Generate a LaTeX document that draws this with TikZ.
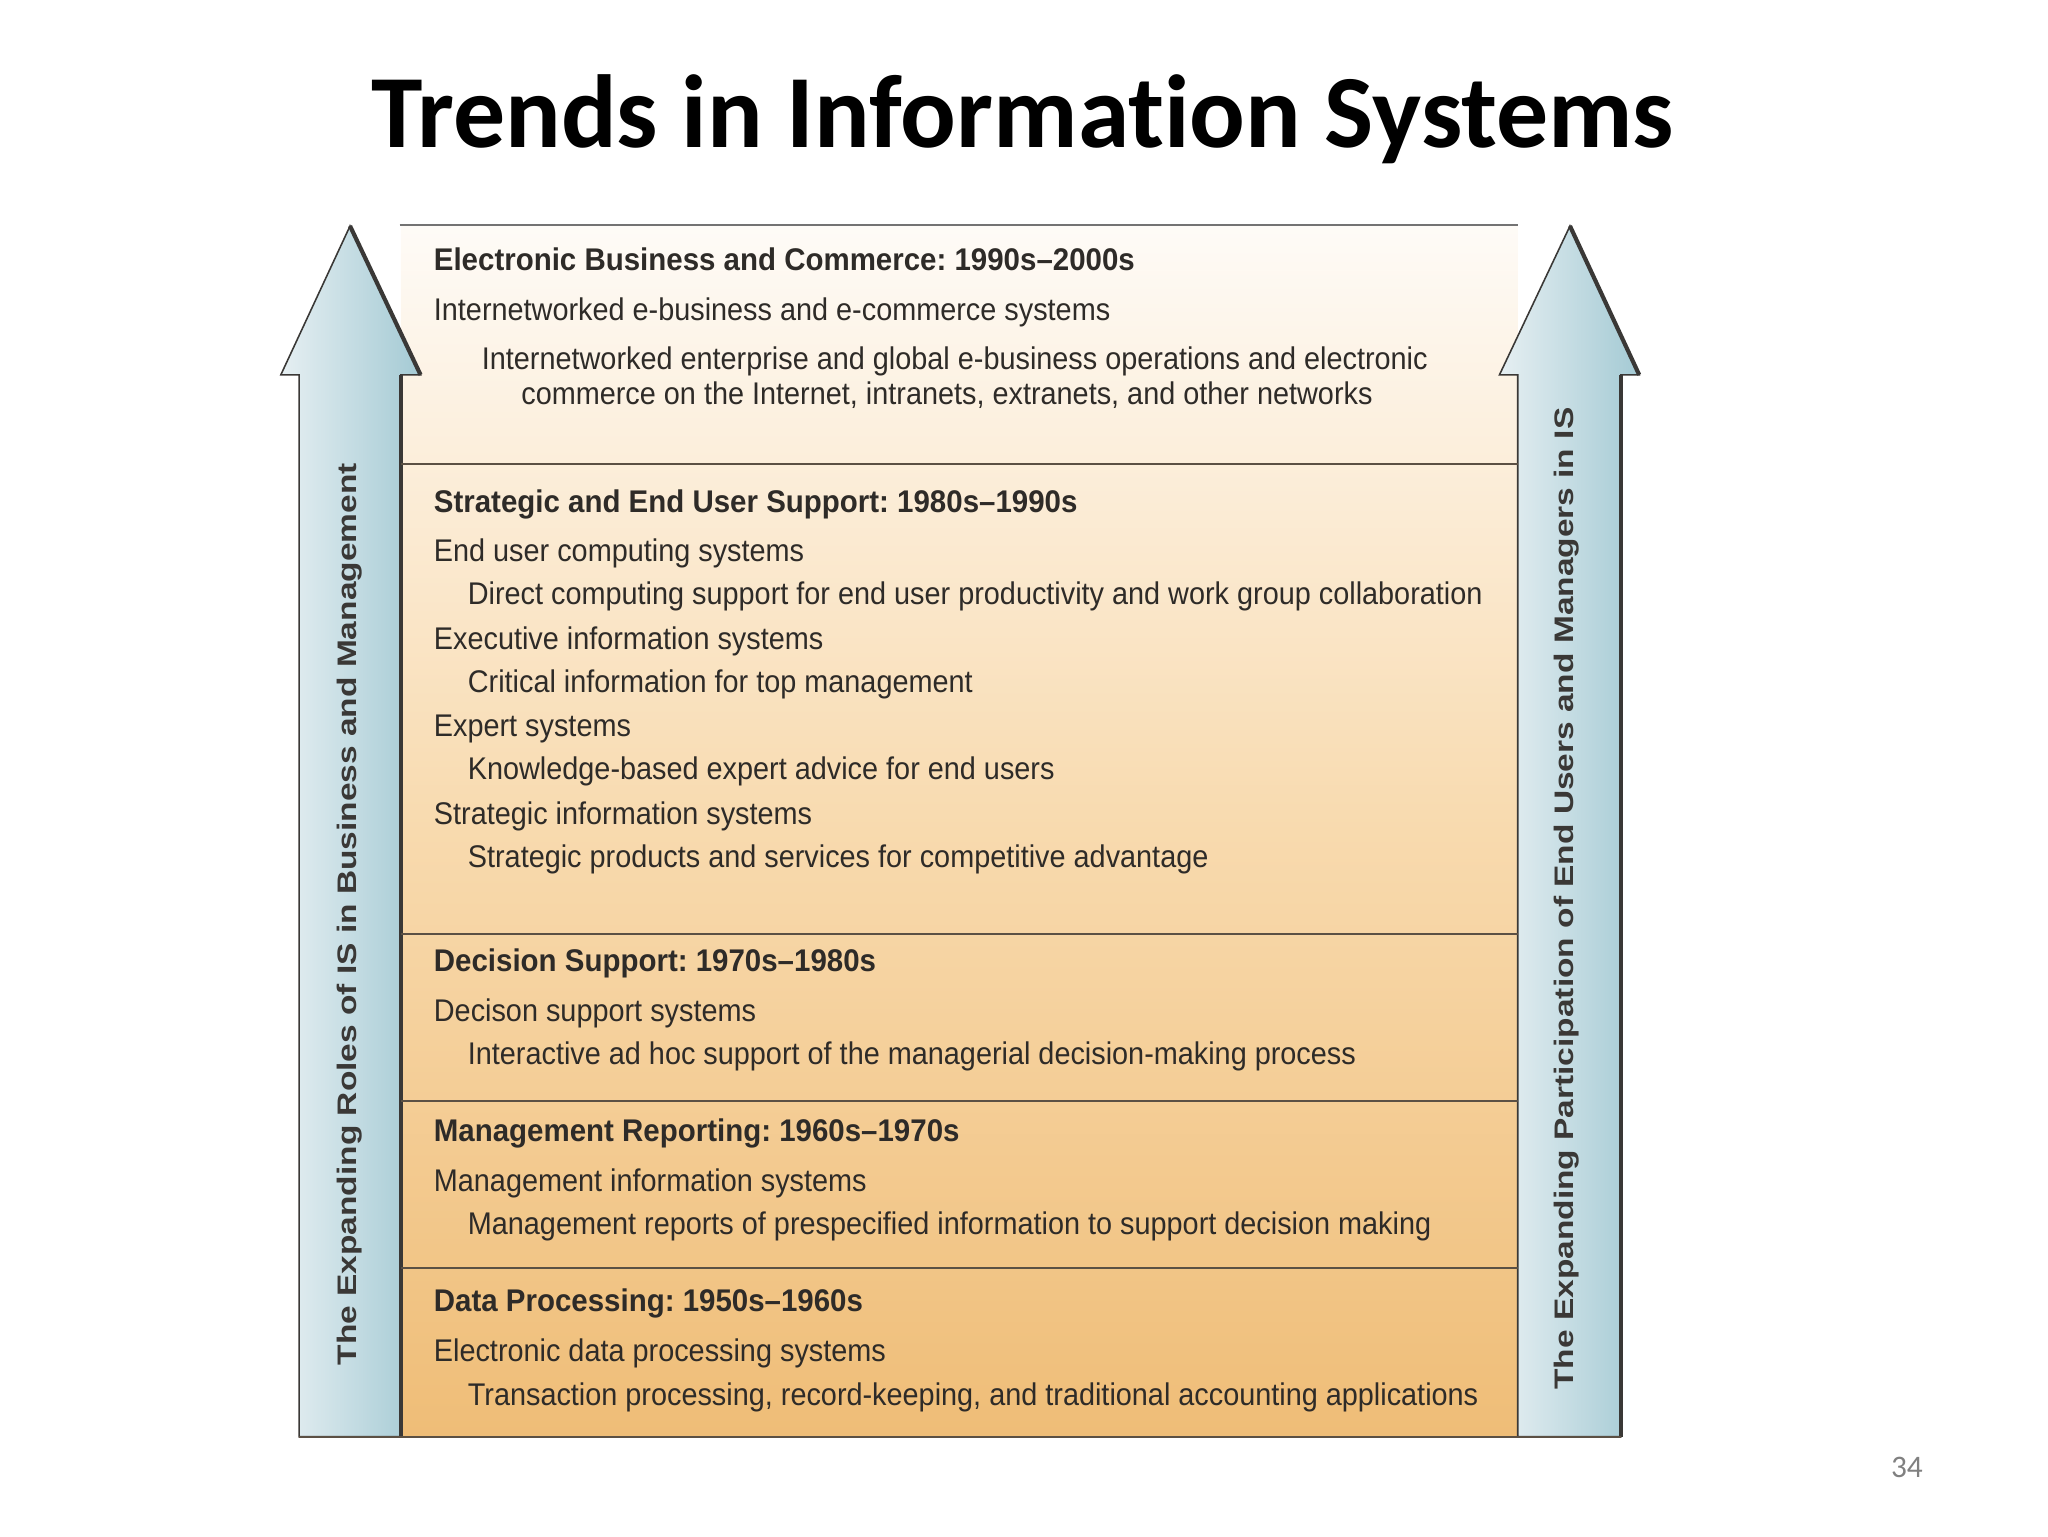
\documentclass[tikz,border=0pt]{standalone}
\usepackage{fontspec}
\setmainfont{Liberation Sans}
\newfontfamily\titlefont{Carlito}[Ligatures=NoCommon]
\newfontfamily\bodyfont{Liberation Sans}[FakeStretch=0.92]
\newfontfamily\headfont{Liberation Sans}[FakeStretch=0.94]
\newfontfamily\arrowfont{Liberation Sans}[FakeStretch=1.25]
\frenchspacing
\definecolor{txt}{HTML}{2E2B28}
\definecolor{boxtop}{HTML}{FEFBF7}
\definecolor{boxmid}{HTML}{F8DAAE}
\definecolor{boxbot}{HTML}{EFBD77}
\definecolor{arrowleft}{HTML}{E6EFF2}
\definecolor{arrowright}{HTML}{A4CAD4}
\definecolor{edge}{HTML}{3A3836}
\definecolor{sep}{HTML}{5B5044}
\tikzset{
  head/.style={anchor=base west, inner sep=0, text=txt,
    font=\headfont\bfseries\fontsize{24}{28}\selectfont},
  item/.style={anchor=base west, inner sep=0, text=txt,
    font=\bodyfont\fontsize{24}{28}\selectfont},
  subitem/.style={item},
  centreitem/.style={item, anchor=base},
  arrowbody/.style={left color=arrowleft, right color=arrowright, draw=edge, line width=1.2pt, line join=miter},
  arrowshadow/.style={draw=edge, line width=3.2pt},
  sepline/.style={draw=sep, line width=1.6pt},
  arrowlabel/.style={anchor=base, inner sep=0, rotate=90, text=edge,
    font=\arrowfont\bfseries\fontsize{20.5}{24}\selectfont}
}
\begin{document}
\begin{tikzpicture}[x=1pt, y=-1pt]
\useasboundingbox (0,0) rectangle (1568,1176);

% title and page number
\node[anchor=base, inner sep=0, font=\titlefont\bfseries\fontsize{79.5}{90}\selectfont] (title) at (783,113) {Trends in Information Systems};
\node[anchor=base, inner sep=0, text=black!50, font=\titlefont\fontsize{24}{28}\selectfont] (page) at (1460,1131) {34};

% the shaded box
\fill[top color=boxtop, bottom color=boxbot, middle color=boxmid] (307,172) rectangle (1162,1100);
\draw[draw=black!55, line width=1.6pt] (306,172) -- (1162,172);

% left arrow
\draw[arrowbody] (229,1100) -- (229,287) -- (215,287) -- (268,173) -- (322,287) -- (307,287) -- (307,1100) -- cycle;
\draw[arrowshadow] (268,173) -- (322,287);
\draw[arrowshadow] (307,287) -- (307,1100);

% right arrow
\draw[arrowbody] (1162,1100) -- (1162,287) -- (1148,287) -- (1202,173) -- (1255,287) -- (1241,287) -- (1241,1100) -- cycle;
\draw[arrowshadow] (1202,173) -- (1255,287);
\draw[arrowshadow] (1241,287) -- (1241,1100);

% separators
\draw[sepline] (307,355) -- (1162,355);
\draw[sepline] (307,715) -- (1162,715);
\draw[sepline] (307,843) -- (1162,843);
\draw[sepline] (307,971) -- (1162,971);
\draw[sepline] (229,1100) -- (1241,1100);

% arrow labels
\node[arrowlabel] (roles) at (273,700) {The Expanding Roles of IS in Business and Management};
\node[arrowlabel] (users) at (1205,688) {The Expanding Participation of End Users and Managers in IS};

% electronic business
\node[head] (ebc) at (332,207) {Electronic Business and Commerce: 1990s–2000s};
\node[item] (ebc-sys) at (332,245) {Internetworked e-business and e-commerce systems};
\node[centreitem] (ebc-a) at (731,283) {Internetworked enterprise and global e-business operations and electronic};
\node[centreitem] (ebc-b) at (725,310) {commerce on the Internet, intranets, extranets, and other networks};

% strategic and end user support
\node[head] (seu) at (332,392) {Strategic and End User Support: 1980s–1990s};
\node[item] (seu-euc) at (332,430) {End user computing systems};
\node[subitem] (seu-euc-d) at (358,463) {Direct computing support for end user productivity and work group collaboration};
\node[item] (seu-eis) at (332,497) {Executive information systems};
\node[subitem] (seu-eis-d) at (358,530) {Critical information for top management};
\node[item] (seu-es) at (332,564) {Expert systems};
\node[subitem] (seu-es-d) at (358,597) {Knowledge-based expert advice for end users};
\node[item] (seu-sis) at (332,631) {Strategic information systems};
\node[subitem] (seu-sis-d) at (358,664) {Strategic products and services for competitive advantage};

% decision support
\node[head] (ds) at (332,744) {Decision Support: 1970s–1980s};
\node[item] (ds-sys) at (332,782) {Decison support systems};
\node[subitem] (ds-sys-d) at (358,815) {Interactive ad hoc support of the managerial decision-making process};

% management reporting
\node[head] (mr) at (332,874) {Management Reporting: 1960s–1970s};
\node[item] (mr-sys) at (332,912) {Management information systems};
\node[subitem] (mr-sys-d) at (358,945) {Management reports of prespecified information to support decision making};

% data processing
\node[head] (dp) at (332,1004) {Data Processing: 1950s–1960s};
\node[item] (dp-sys) at (332,1042) {Electronic data processing systems};
\node[subitem] (dp-sys-d) at (358,1076) {Transaction processing, record-keeping, and traditional accounting applications};
\end{tikzpicture}
\end{document}
